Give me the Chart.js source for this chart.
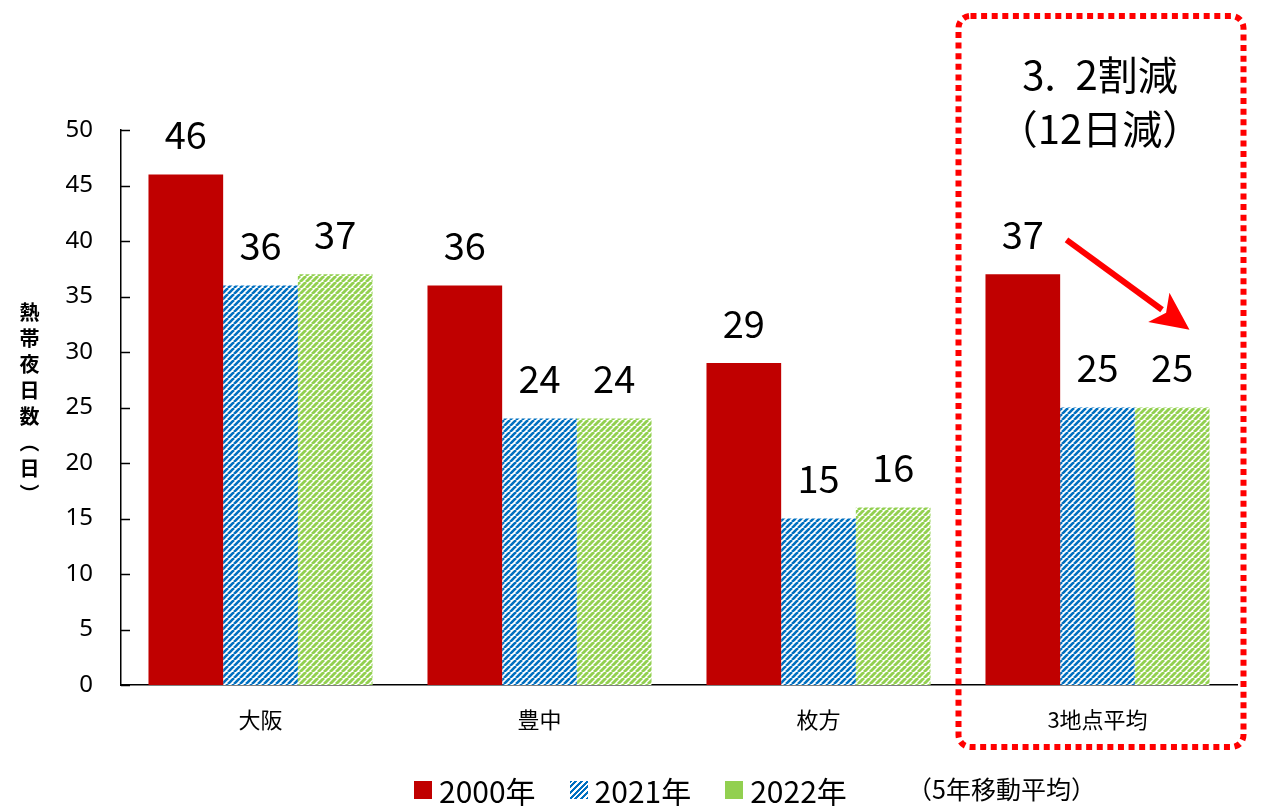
<!DOCTYPE html>
<html>
<head>
<meta charset="utf-8">
<script src="https://cdn.jsdelivr.net/npm/chart.js@4/dist/chart.umd.min.js"></script>
<style>
  html, body { margin: 0; padding: 0; background: #fff; }
  #wrap { position: relative; width: 1263px; height: 806px; font-family: "Noto Sans CJK JP", sans-serif; }
  #chart { position: absolute; left: 0; top: 0; }
  .note { position: absolute; color: #000; white-space: nowrap; }
  #ytitle { left: 16px; top: 302px; writing-mode: vertical-rl; font-size: 20px; font-weight: bold; letter-spacing: 6px; line-height: 26px; }
  #legend { left: 414px; top: 770px; font-size: 30px; line-height: 40px; display: flex; align-items: center; }
  #legend span.box { display: inline-block; width: 18px; height: 18px; margin-right: 7px; }
  #legend span.item { display: inline-flex; align-items: center; margin-right: 34px; }
  #avgnote { left: 907px; top: 770px; font-size: 25px; }
  #reduce { left: 980px; top: 46px; width: 240px; text-align: center; font-size: 40px; line-height: 54px; }
</style>
</head>
<body>
<div id="wrap">
  <canvas id="chart" width="1263" height="806"></canvas>
  <div class="note" id="ytitle">熱帯夜日数（日）</div>
  <div class="note" id="reduce">3.&#x2002;2割減<br>（12日減）</div>
  <div class="note" id="legend"></div>
  <div class="note" id="avgnote">（5年移動平均）</div>
</div>
<script>
// 熱帯夜日数 data
const categories = ["大阪", "豊中", "枚方", "3地点平均"];
const seriesNames = ["2000年", "2021年", "2022年"];
const values2000 = [46, 36, 29, 37];
const values2021 = [36, 24, 15, 25];
const values2022 = [37, 24, 16, 25];
const yTicks = [0, 5, 10, 15, 20, 25, 30, 35, 40, 45, 50];

const RED = "#C00000";
const BLUE = "#0070C0";
const GREEN = "#92D050";

function stripePattern(color, period, width) {
    const c = document.createElement("canvas");
    c.width = period;
    c.height = period;
    const g = c.getContext("2d");
    g.fillStyle = "#fff";
    g.fillRect(0, 0, period, period);
    g.strokeStyle = color;
    g.lineWidth = width;
    // "/" stripes, drawn three times to cover tile corners
    for (const off of [-period, 0, period]) {
        g.beginPath();
        g.moveTo(off, period);
        g.lineTo(off + period, 0);
        g.stroke();
    }
    return document.getElementById("chart").getContext("2d").createPattern(c, "repeat");
}

const bluePattern = stripePattern(BLUE, 6, 2.6);
const greenPattern = stripePattern(GREEN, 6, 2.9);

// value labels above the bars
const valueLabels = {
    id: "valueLabels",
    afterDatasetsDraw(chart) {
        const ctx = chart.ctx;
        ctx.save();
        ctx.fillStyle = "#000";
        ctx.font = "38px 'Noto Sans CJK JP', sans-serif";
        ctx.textAlign = "center";
        ctx.textBaseline = "middle";
        chart.data.datasets.forEach((ds, i) => {
            chart.getDatasetMeta(i).data.forEach((bar, j) => {
                ctx.fillText(String(ds.data[j]), bar.x, bar.y - 40);
            });
        });
        ctx.restore();
    }
};

// inside tick marks on the y axis, plus the dotted box and arrow
const decorations = {
    id: "decorations",
    afterDraw(chart) {
        const ctx = chart.ctx;
        const y = chart.scales.y;
        const x = chart.scales.x;
        ctx.save();
        ctx.strokeStyle = "#000";
        ctx.lineWidth = 1.5;
        yTicks.forEach(v => {
            const py = Math.round(y.getPixelForValue(v)) + 0.5;
            ctx.beginPath();
            ctx.moveTo(y.right, py);
            ctx.lineTo(y.right + 9, py);
            ctx.stroke();
        });

        // dotted rounded box around 3地点平均
        const cx = x.getPixelForValue(3);
        const left = cx - 139, right = cx + 146, top = 16, bottom = 747, r = 12;
        ctx.strokeStyle = "#FF0000";
        ctx.lineWidth = 6;
        ctx.setLineDash([6, 4.6]);
        ctx.beginPath();
        ctx.moveTo(left + r, top);
        ctx.lineTo(right - r, top);
        ctx.arcTo(right, top, right, top + r, r);
        ctx.lineTo(right, bottom - r);
        ctx.arcTo(right, bottom, right - r, bottom, r);
        ctx.lineTo(left + r, bottom);
        ctx.arcTo(left, bottom, left, bottom - r, r);
        ctx.lineTo(left, top + r);
        ctx.arcTo(left, top, left + r, top, r);
        ctx.stroke();
        ctx.setLineDash([]);

        // arrow from 2000 label toward the lower bars
        const x0 = cx - 31, y0 = y.getPixelForValue(40.1);
        const x1 = cx + 92, y1 = y.getPixelForValue(32.0);
        const ang = Math.atan2(y1 - y0, x1 - x0);
        const headLen = 38, headW = 18;
        const bx = x1 - headLen * Math.cos(ang), by = y1 - headLen * Math.sin(ang);
        ctx.lineWidth = 6;
        ctx.beginPath();
        ctx.moveTo(x0, y0);
        ctx.lineTo(bx + 4 * Math.cos(ang), by + 4 * Math.sin(ang));
        ctx.stroke();
        ctx.fillStyle = "#FF0000";
        ctx.beginPath();
        ctx.moveTo(x1, y1);
        ctx.lineTo(bx + headW * Math.sin(ang), by - headW * Math.cos(ang));
        ctx.lineTo(bx + 9 * Math.cos(ang), by + 9 * Math.sin(ang));
        ctx.lineTo(bx - headW * Math.sin(ang), by + headW * Math.cos(ang));
        ctx.closePath();
        ctx.fill();
        ctx.restore();
    }
};

const fills = [RED, bluePattern, greenPattern];
const datasets = [values2000, values2021, values2022].map((vals, i) => ({
    label: seriesNames[i],
    data: vals,
    backgroundColor: fills[i],
    borderWidth: 0,
    categoryPercentage: 0.803,
    barPercentage: 1.0
}));

new Chart(document.getElementById("chart"), {
    type: "bar",
    data: { labels: categories, datasets: datasets },
    options: {
        responsive: false,
        animation: false,
        layout: { padding: { left: 0, right: 26, top: 130, bottom: 0 } },
        scales: {
            x: {
                afterFit(scale) { scale.height = 121; },
                grid: { display: false, drawTicks: false },
                border: { display: true, color: "#000", width: 1.5 },
                ticks: {
                    color: "#000",
                    padding: 21,
                    font: { family: "'Noto Sans CJK JP', sans-serif", size: 22 }
                }
            },
            y: {
                min: 0,
                max: 50,
                afterFit(scale) { scale.width = 121; },
                afterBuildTicks(scale) { scale.ticks = yTicks.map(v => ({ value: v })); },
                grid: { display: false, drawTicks: false },
                border: { display: true, color: "#000", width: 1.5 },
                ticks: {
                    color: "#000",
                    padding: 28,
                    font: { family: "'Noto Sans', sans-serif", size: 24 }
                }
            }
        },
        plugins: {
            legend: { display: false },
            tooltip: { enabled: false }
        }
    },
    plugins: [valueLabels, decorations]
});

// legend built from the same series
const legendEl = document.getElementById("legend");
const cssFills = [
    RED,
    "repeating-linear-gradient(-45deg, #0070C0 0 2px, #fff 2px 4px)",
    GREEN
];
seriesNames.forEach((name, i) => {
    const item = document.createElement("span");
    item.className = "item";
    const box = document.createElement("span");
    box.className = "box";
    box.style.background = cssFills[i];
    item.appendChild(box);
    item.appendChild(document.createTextNode(name));
    legendEl.appendChild(item);
});
</script>
</body>
</html>
